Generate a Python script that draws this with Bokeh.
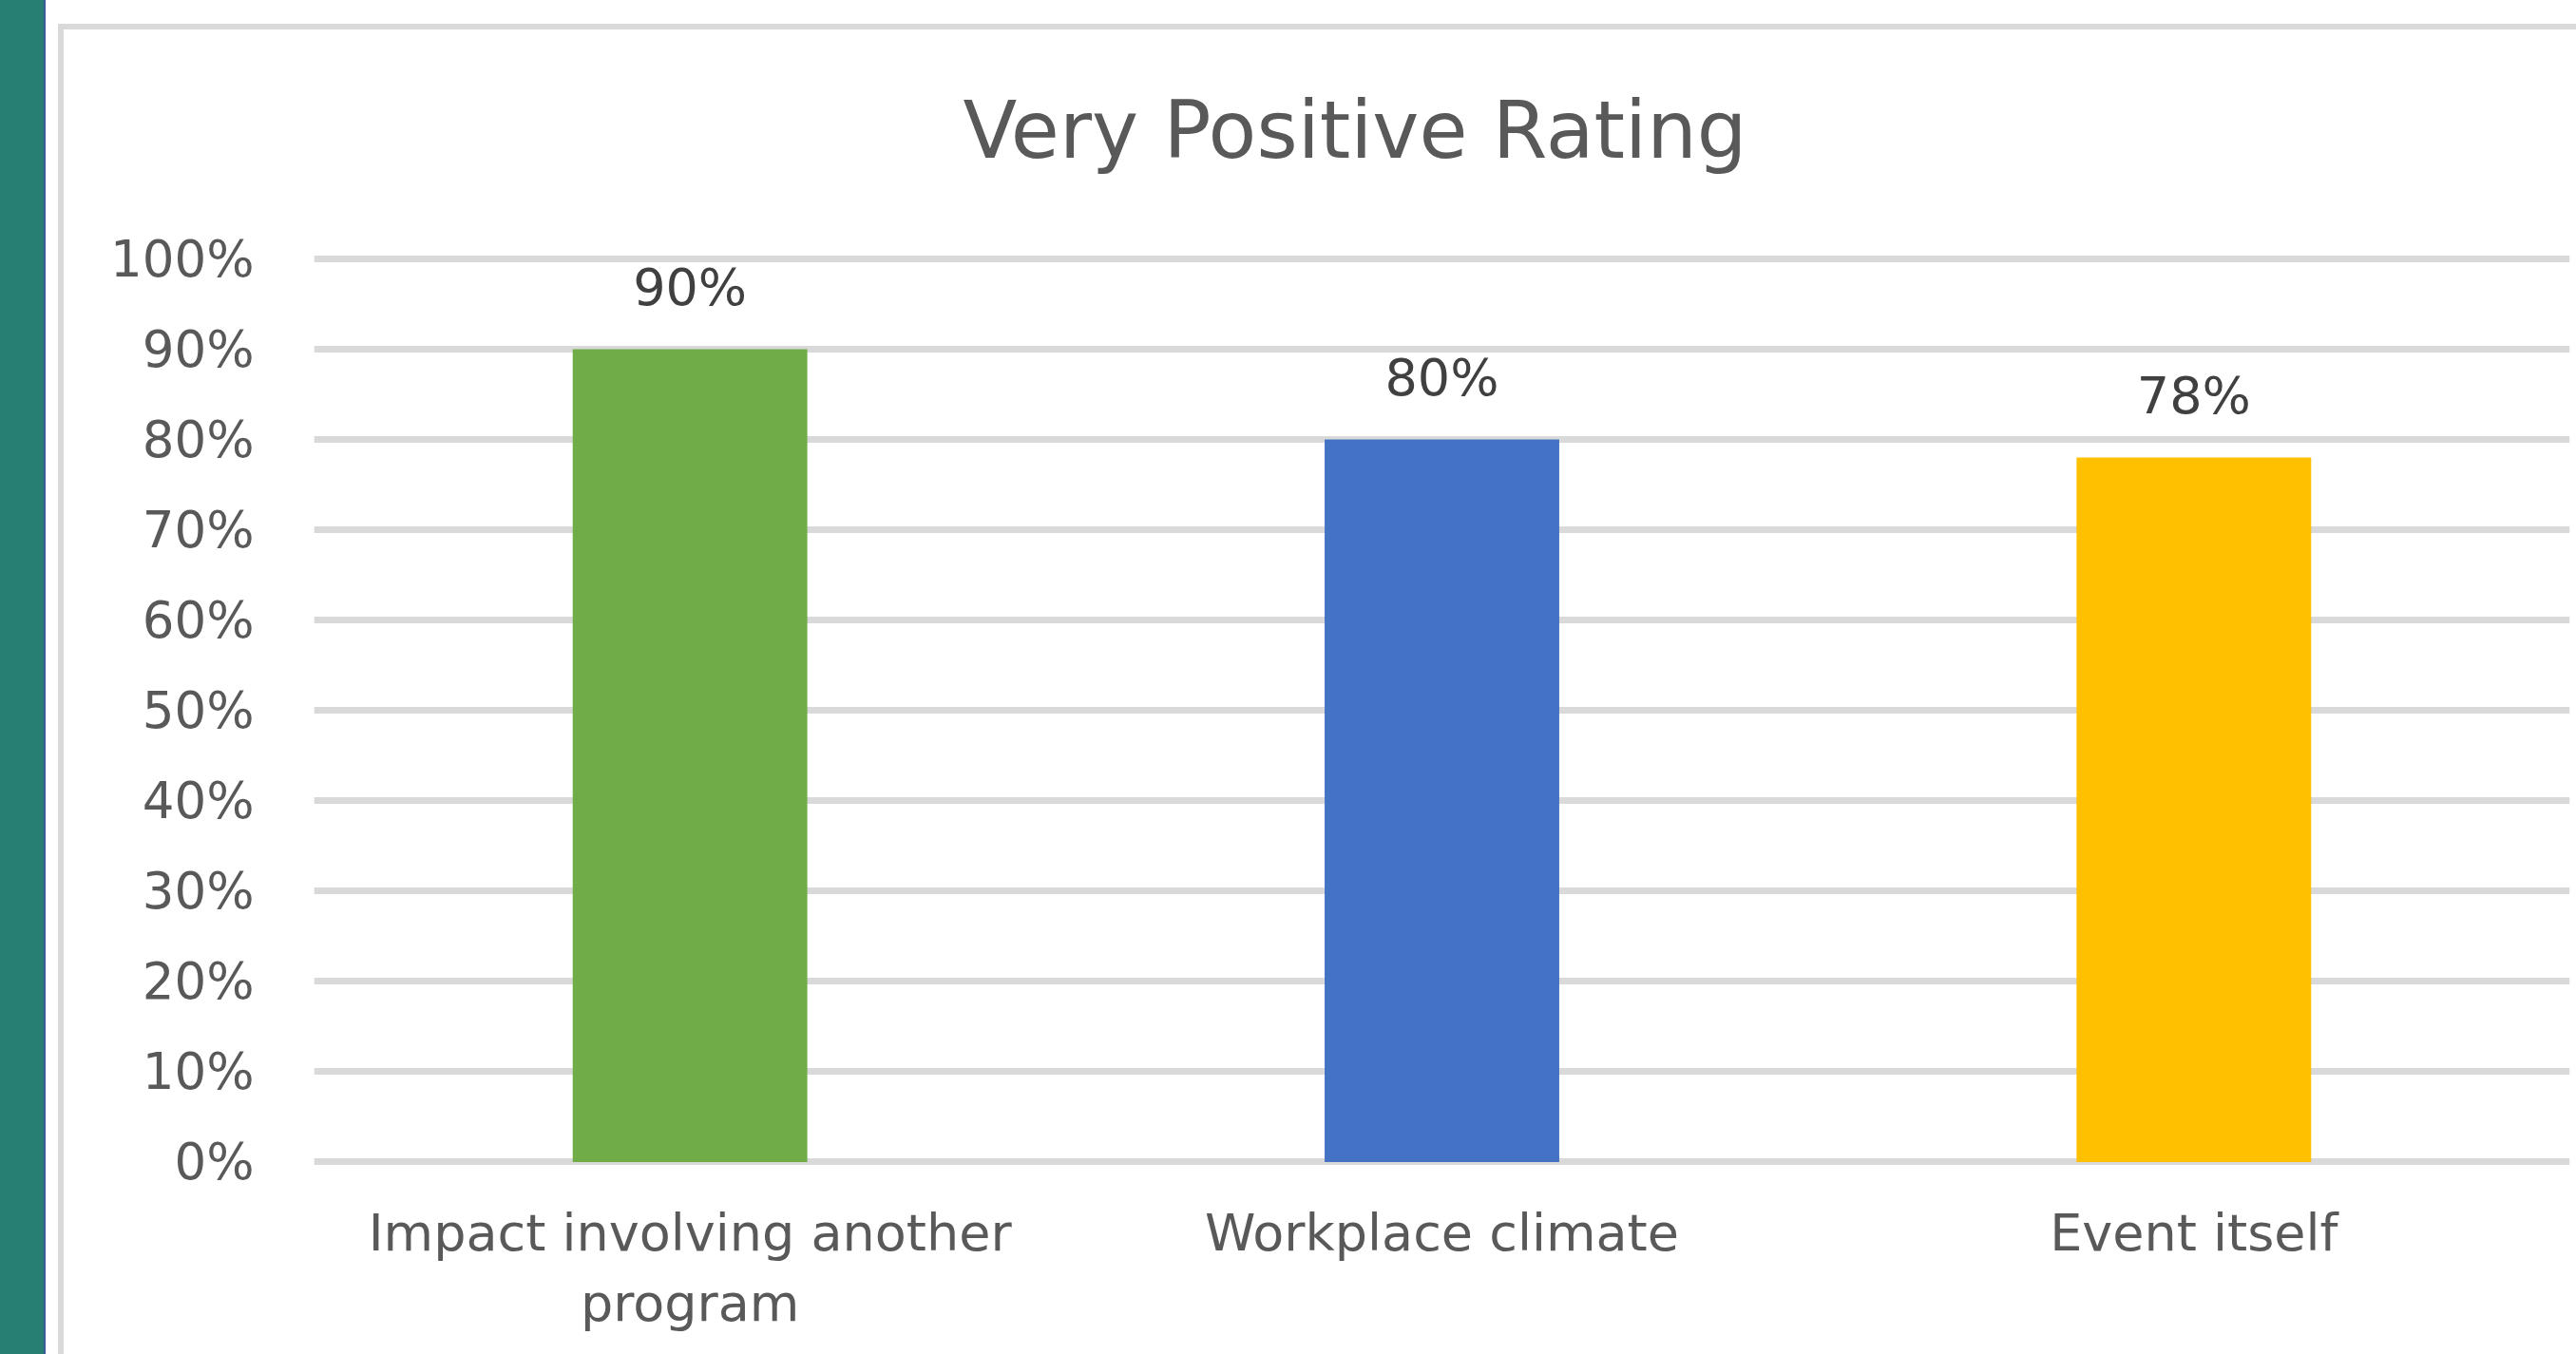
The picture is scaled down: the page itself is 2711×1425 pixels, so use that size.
from bokeh.plotting import figure
from bokeh.layouts import row, column
from bokeh.models import Range1d, NumeralTickFormatter, FixedTicker, ColumnDataSource, Div
from bokeh.core.properties import value
from bokeh.embed import file_html
from bokeh.resources import INLINE

# ---- data ----
title_text = "Very Positive Rating"
categories = ["Impact involving another program", "Workplace climate", "Event itself"]
category_labels = ["Impact involving another\nprogram", "Workplace climate", "Event itself"]
values = [0.90, 0.80, 0.78]
bar_colors = ["#70AD47", "#4472C4", "#FFC000"]
y_ticks = [0.0, 0.1, 0.2, 0.3, 0.4, 0.5, 0.6, 0.7, 0.8, 0.9, 1.0]

FONT = "DejaVu Sans"


def block(w, h, color):
    return Div(text="", width=w, height=h, margin=0,
               styles={"background-color": color, "padding": "0", "margin": "0"})


W_MAIN, H_MAIN = 2644, 1394

p = figure(x_range=categories, y_range=Range1d(-0.21305, 1.07575),
           width=W_MAIN, height=H_MAIN, output_backend="svg", toolbar_location=None,
           min_border_left=263, min_border_right=7, min_border_top=169, min_border_bottom=0)
p.outline_line_color = None
p.background_fill_color = "white"
p.border_fill_color = "white"

src = ColumnDataSource(dict(cat=categories, val=values, color=bar_colors,
                            label=[f"{round(v * 100)}%" for v in values],
                            base=[0.0] * len(values), name=category_labels))
p.vbar(x="cat", top="val", width=0.312, fill_color="color", line_color=None, source=src)
p.text(x="cat", y="val", text="label", source=src, text_align="center", text_baseline="middle",
       y_offset=-65, text_font=value(FONT), text_font_size="54px", text_color="#404040")
# category labels below the baseline
p.text(x="cat", y="base", text="name", source=src, text_align="center", text_baseline="top",
       y_offset=43, text_font=value(FONT), text_font_size="54px", text_color="#595959",
       text_line_height=1.18)

p.xaxis.visible = False
p.xgrid.visible = False
p.ygrid.grid_line_color = "#d9d9d9"
p.ygrid.grid_line_width = 7
p.yaxis.ticker = FixedTicker(ticks=y_ticks)
p.yaxis.formatter = NumeralTickFormatter(format="0%")
p.yaxis.axis_line_color = None
p.yaxis.major_tick_line_color = None
p.yaxis.minor_tick_line_color = None
p.yaxis.major_label_text_font = FONT
p.yaxis.major_label_text_font_size = "53px"
p.yaxis.major_label_text_color = "#595959"
p.yaxis.major_label_standoff = 57

p.title.text = title_text
p.title.align = "left"
p.title.offset = 683
p.title.text_font = FONT
p.title.text_font_size = "83px"
p.title.text_font_style = "normal"
p.title.text_color = "#595959"
p.title.standoff = 29

teal = block(46, 1425, "#277F74")
blue_line = block(2, 1425, "#3B5A9A")
gap = block(13, 1425, "#ffffff")
top_gap = block(2650, 25, "#ffffff")
top_border = block(2650, 6, "#d9d9d9")
left_border = block(6, H_MAIN, "#d9d9d9")

layout = row(teal, blue_line, gap,
             column(top_gap, top_border, row(left_border, p, spacing=0), spacing=0),
             spacing=0)

open("out.html", "w").write(file_html(layout, INLINE))
